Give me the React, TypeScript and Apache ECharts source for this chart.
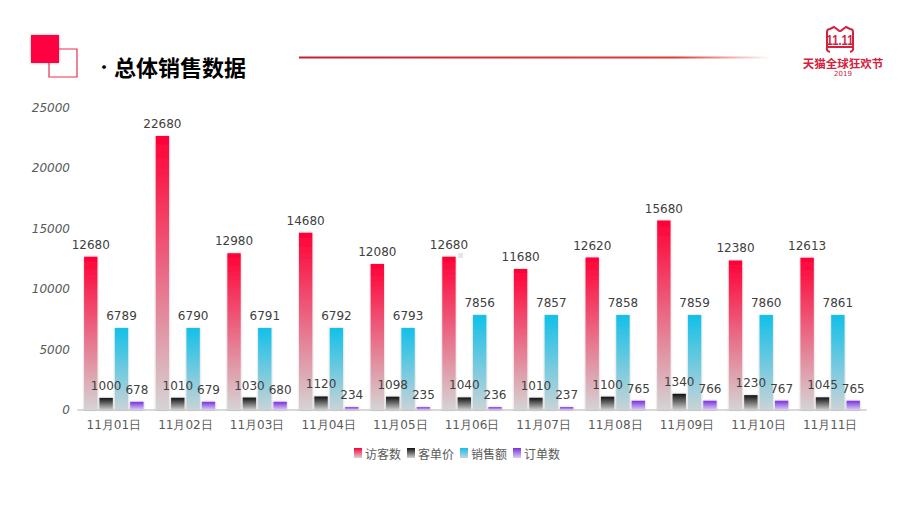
import React, { useEffect, useRef } from "react";
import * as echarts from "echarts";

const categories = ["11月01日", "11月02日", "11月03日", "11月04日", "11月05日", "11月06日", "11月07日", "11月08日", "11月09日", "11月10日", "11月11日"];
const visitors = [12680, 22680, 12980, 14680, 12080, 12680, 11680, 12620, 15680, 12380, 12613];
const unitPrice = [1000, 1010, 1030, 1120, 1098, 1040, 1010, 1100, 1340, 1230, 1045];
const sales = [6789, 6790, 6791, 6792, 6793, 7856, 7857, 7858, 7859, 7860, 7861];
const orders = [678, 679, 680, 234, 235, 236, 237, 765, 766, 767, 765];
const seriesNames = ["访客数", "客单价", "销售额", "订单数"];
const yTicks = { min: 0, max: 25000, interval: 5000 };

const NUM_FONT = "DejaVu Sans";

function grad(top: string, bottom: string) {
  return new echarts.graphic.LinearGradient(0, 0, 0, 1, [
    { offset: 0, color: top },
    { offset: 1, color: bottom },
  ]);
}

const catHead =
  "M5 26 Q1 25 2 21 L2 6 Q2 3 5 3 L9 1 L13 4 Q15 6 17 4 L21 1 L25 3 Q28 3 28 6 L28 21 Q29 25 25 26 M2 21 L28 21";
echarts.graphic.registerShape("logo", echarts.graphic.extendPath(catHead, {}));

export default function App() {
  const ref = useRef<HTMLDivElement>(null);
  useEffect(() => {
    if (!ref.current) return;
    const chart = echarts.init(ref.current, null, { renderer: "svg" });
    const colors = [
      grad("#ff0036", "#d4d4d4"),
      grad("#111111", "#d0d0d0"),
      grad("#12c0e8", "#c9d3d7"),
      grad("#7b2fe2", "#d9d0f0"),
    ];
    const data = [visitors, unitPrice, sales, orders];
    const series = data.map((d, i) => ({
      name: seriesNames[i],
      type: "bar",
      data: d,
      barGap: "15%",
      barCategoryGap: "17%",
      itemStyle: { color: colors[i], shadowBlur: 2, shadowColor: "rgba(0,0,0,0.25)" },
      label: {
        show: true,
        position: "top",
        distance: 6,
        color: "#404040",
        fontSize: 12,
        fontFamily: NUM_FONT,
      },
    }));
    chart.setOption({
      animation: false,
      backgroundColor: "#ffffff",
      grid: { left: 78, right: 54, top: 108, bottom: 108 },
      legend: {
        data: seriesNames,
        left: 349,
        top: 447,
        itemWidth: 8,
        itemHeight: 10,
        itemGap: 6,
        icon: "rect",
        textStyle: { color: "#595959", fontSize: 12, fontFamily: "Noto Sans CJK SC", padding: [0, 0, 0, -2] },
        padding: [0, 5],
      },
      xAxis: {
        type: "category",
        data: categories,
        axisLine: { lineStyle: { color: "#d9d9d9", width: 2 } },
        axisTick: { show: false },
        axisLabel: { color: "#595959", fontSize: 12, margin: 9, fontFamily: NUM_FONT },
      },
      yAxis: {
        type: "value",
        min: yTicks.min,
        max: yTicks.max,
        interval: yTicks.interval,
        splitLine: { show: false },
        axisLine: { show: false },
        axisTick: { show: false },
        axisLabel: {
          color: "#595959",
          fontSize: 12,
          margin: 8,
          fontFamily: NUM_FONT,
          fontStyle: "italic",
          formatter: (v: number) => String(v),
        },
      },
      graphic: [
        { type: "rect", shape: { x: 49, y: 49, width: 28, height: 28 }, style: { fill: "none", stroke: "#e8334a", lineWidth: 1.2 } },
        { type: "rect", shape: { x: 31, y: 35, width: 28, height: 28 }, style: { fill: "#ff0040", shadowBlur: 3, shadowColor: "rgba(0,0,0,0.3)" } },
        { type: "text", x: 95, y: 66, style: { text: "•", fill: "#000", fontSize: 18, verticalAlign: "middle", fontFamily: "Noto Sans CJK SC" } },
        { type: "text", x: 114, y: 66, style: { text: "总体销售数据", fill: "#000", fontSize: 22, fontWeight: "bold", verticalAlign: "middle", fontFamily: "Noto Sans CJK SC" } },
        {
          type: "rect",
          shape: { x: 299, y: 56.5, width: 472, height: 2 },
          style: {
            fill: new echarts.graphic.LinearGradient(0, 0, 1, 0, [
              { offset: 0, color: "#c8202f" },
              { offset: 0.8, color: "#e23a2f" },
              { offset: 1, color: "rgba(226,58,47,0)" },
            ]),
          },
        },
        { type: "logo", x: 825, y: 26, style: { fill: "none", stroke: "#d4213d", lineWidth: 2 } },
        { type: "text", x: 840, y: 40.5, scaleX: 0.8, originX: 0, originY: 0, style: { text: "11.11", fill: "#d4213d", fontSize: 14, fontWeight: "bold", align: "center", verticalAlign: "middle", fontFamily: "Liberation Sans" } },
        { type: "text", x: 843, y: 63, style: { text: "天猫全球狂欢节", fill: "#d4213d", fontSize: 11.5, fontWeight: "bold", align: "center", verticalAlign: "middle", fontFamily: "Noto Sans CJK SC" } },
        { type: "text", x: 843, y: 74, style: { text: "2019", fill: "#d4213d", fontSize: 7, align: "center", verticalAlign: "middle", fontFamily: "DejaVu Sans" } },
        { type: "rect", shape: { x: 458, y: 253, width: 5, height: 5 }, style: { fill: "#e6e6e6" } },
      ],
      series,
    });
    return () => chart.dispose();
  }, []);
  return <div ref={ref} style={{ width: 920, height: 518, position: "absolute", left: 0, top: 0 }} />;
}
